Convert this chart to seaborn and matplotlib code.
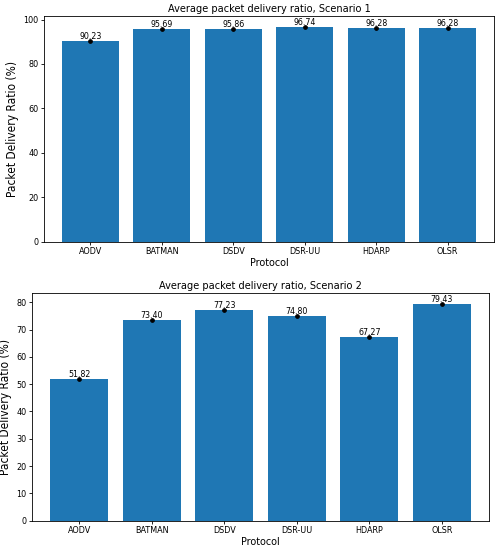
import matplotlib
matplotlib.use('Agg')
import matplotlib.pyplot as plt
import numpy as np
import pandas as pd
import seaborn as sns

protocols = ['AODV', 'BATMAN', 'DSDV', 'DSR-UU', 'HDARP', 'OLSR']
pdr_s1 = [90.23, 95.69, 95.86, 96.74, 96.28, 96.28]
pdr_s2 = [51.82, 73.40, 77.23, 74.80, 67.27, 79.43]

# the reference text is a little narrow for its height, so use the condensed cut
plt.rcParams['font.family'] = ['DejaVu Sans']
plt.rcParams['font.stretch'] = 'condensed'


def draw(ax, values, title):
    df = pd.DataFrame({'Protocol': protocols, 'PDR': values})
    sns.barplot(data=df, x='Protocol', y='PDR', color='#1f77b4', saturation=1,
                width=0.8, errorbar=None, ax=ax)
    ax.errorbar(np.arange(len(protocols)), values, fmt='o', color='black',
                markersize=3.5)
    for i, v in enumerate(values):
        ax.text(i, v, f'{v:.2f}', ha='center', va='bottom', fontsize=8.4)
    ax.set_xlim(-0.65, len(protocols) - 0.35)
    ax.set_ylim(0, max(values) * 1.05)
    ax.set_title(title, fontsize=10.4, pad=4)
    ax.set_xlabel('Protocol', fontsize=10.3, labelpad=1.5)
    ax.set_ylabel('Packet Delivery Ratio (%)', fontsize=11.4, labelpad=4)
    ax.tick_params(labelsize=8.6, length=3, pad=2.5)


# reference looks like a bigger figure shrunk down, so draw at dpi 75
fig = plt.figure(figsize=(500 / 75, 550 / 75), dpi=75)
ax1 = fig.add_axes([44 / 500, 1 - 241.7 / 550, 450 / 500, 225.7 / 550])
ax2 = fig.add_axes([32 / 500, 1 - 520.7 / 550, 457 / 500, 227.7 / 550])
draw(ax1, pdr_s1, 'Average packet delivery ratio, Scenario 1')
draw(ax2, pdr_s2, 'Average packet delivery ratio, Scenario 2')
fig.savefig('out.png', dpi=75)
